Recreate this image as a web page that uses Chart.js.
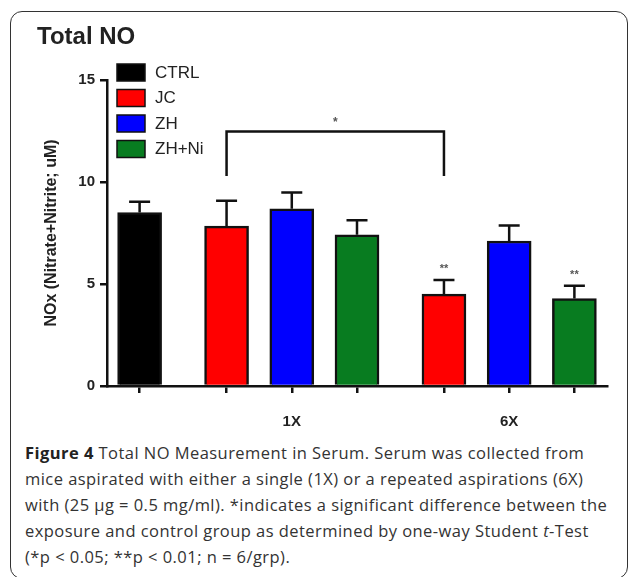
<!DOCTYPE html>
<html>
<head>
<meta charset="utf-8">
<script src="https://cdn.jsdelivr.net/npm/chart.js@4.4.1/dist/chart.umd.min.js"></script>
<style>
  html, body { margin: 0; padding: 0; background: #fff; }
  body { width: 629px; height: 577px; position: relative; overflow: hidden; }
  #frame {
    position: absolute; left: 10px; top: 11px; width: 618px; height: 568px;
    border: 1.5px solid #333; border-radius: 12px; box-sizing: border-box;
  }
  #plot { position: absolute; left: 0; top: 0; }
  #caption {
    position: absolute; left: 25px; top: 440px;
    font-family: "Open Sans", sans-serif; font-size: 16.5px; line-height: 26px;
    letter-spacing: 0.45px; color: #333; white-space: nowrap;
  }
  #caption b { color: #222; }
</style>
</head>
<body>
<div id="frame"></div>
<canvas id="plot" width="629" height="440"></canvas>
<div id="caption">
  <b>Figure 4</b> Total NO Measurement in Serum. Serum was collected from<br>
  mice aspirated with either a single (1X) or a repeated aspirations (6X)<br>
  with (25 µg = 0.5 mg/ml). *indicates a significant difference between the<br>
  exposure and control group as determined by one-way Student <i>t</i>-Test<br>
  (*p &lt; 0.05; **p &lt; 0.01; n = 6/grp).
</div>
<script>
(function () {
  // Values (mean and SEM, NOx in uM)
  const groupLabels = ["", "1X", "6X"];
  const seriesLabels = ["CTRL", "JC", "ZH", "ZH+Ni"];
  const seriesColors = ["#000000", "#ff0000", "#0000ff", "#087c20"];

  const ctrlMean = [8.5];
  const ctrlSem = [0.53];
  const jcMean = [7.84, 4.5];
  const jcSem = [1.24, 0.69];
  const zhMean = [8.69, 7.11];
  const zhSem = [0.8, 0.76];
  const zhNiMean = [7.41, 4.29];
  const zhNiSem = [0.71, 0.63];

  // significance marks over each bar
  const ctrlStars = [""];
  const jcStars = ["", "**"];
  const zhStars = ["", ""];
  const zhNiStars = ["", "**"];

  const yTicks = [0, 5, 10, 15];

  const series = [
    { label: seriesLabels[0], color: seriesColors[0], mean: ctrlMean, sem: ctrlSem, stars: ctrlStars, groups: [0] },
    { label: seriesLabels[1], color: seriesColors[1], mean: jcMean, sem: jcSem, stars: jcStars, groups: [1, 2] },
    { label: seriesLabels[2], color: seriesColors[2], mean: zhMean, sem: zhSem, stars: zhStars, groups: [1, 2] },
    { label: seriesLabels[3], color: seriesColors[3], mean: zhNiMean, sem: zhNiSem, stars: zhNiStars, groups: [1, 2] }
  ];

  // slot layout: one slot per bar, groups separated by an extra third of a slot
  const GROUP_GAP = 1 / 3;
  const slots = {};
  const groupCenters = [];
  let cursor = -1;
  groupLabels.forEach(function (g, gi) {
    const members = series.filter(function (s) { return s.groups.indexOf(gi) !== -1; });
    if (gi > 0) cursor += GROUP_GAP;
    const first = cursor + 1;
    members.forEach(function (s) { cursor += 1; slots[gi + ":" + s.label] = cursor; });
    groupCenters.push((first + cursor) / 2);
  });
  const allSlots = Object.keys(slots).map(function (k) { return slots[k]; }).sort(function (a, b) { return a - b; });

  const datasets = series.map(function (s) {
    return {
      label: s.label,
      backgroundColor: s.color,
      borderColor: "#111",
      borderWidth: 2.5,
      grouped: false,
      barThickness: 44,
      data: s.groups.map(function (gi, k) {
        return { x: slots[gi + ":" + s.label], y: s.mean[k], sem: s.sem[k], stars: s.stars[k] };
      })
    };
  });

  // error bars (upper SEM) and the ** marks
  const errorBars = {
    id: "errorBars",
    afterDatasetsDraw(chart) {
      const c = chart.ctx;
      const y = chart.scales.y;
      c.save();
      c.strokeStyle = "#111";
      c.lineWidth = 2.5;
      chart.data.datasets.forEach(function (ds, di) {
        const meta = chart.getDatasetMeta(di);
        meta.data.forEach(function (bar, i) {
          const pt = ds.data[i];
          const top = y.getPixelForValue(pt.y + pt.sem);
          c.beginPath();
          c.moveTo(bar.x, bar.y);
          c.lineTo(bar.x, top);
          c.moveTo(bar.x - 10.5, top);
          c.lineTo(bar.x + 10.5, top);
          c.stroke();
          if (pt.stars) {
            c.fillStyle = "#555";
            c.font = "bold 11px Arial";
            c.textAlign = "center";
            c.textBaseline = "middle";
            c.fillText(pt.stars, bar.x, top - 11);
          }
        });
      });
      c.restore();
    }
  };

  // significance bracket between JC 1X and JC 6X
  const bracket = {
    id: "bracket",
    afterDatasetsDraw(chart, args, opts) {
      const c = chart.ctx;
      const x = chart.scales.x, y = chart.scales.y;
      const x0 = x.getPixelForValue(slots[opts.from]);
      const x1 = x.getPixelForValue(slots[opts.to]);
      const yTop = y.getPixelForValue(opts.level);
      const yLeg = y.getPixelForValue(opts.leg);
      c.save();
      c.strokeStyle = "#111";
      c.lineWidth = 2.5;
      c.beginPath();
      c.moveTo(x0, yLeg);
      c.lineTo(x0, yTop);
      c.lineTo(x1, yTop);
      c.lineTo(x1, yLeg);
      c.stroke();
      c.fillStyle = "#555";
      c.font = "bold 12px Arial";
      c.textAlign = "center";
      c.textBaseline = "middle";
      c.fillText(opts.text, (x0 + x1) / 2, yTop - 9);
      c.restore();
    }
  };

  // legend inside the plot, top left
  const boxLegend = {
    id: "boxLegend",
    afterDraw(chart) {
      const c = chart.ctx;
      const a = chart.chartArea;
      c.save();
      c.font = "17px Arial";
      c.textBaseline = "middle";
      c.textAlign = "left";
      chart.data.datasets.forEach(function (ds, i) {
        const bx = a.left + 10;
        const by = a.top - 16 + i * 25.5;
        c.fillStyle = ds.backgroundColor;
        c.fillRect(bx, by, 28, 17);
        c.strokeStyle = "#111";
        c.lineWidth = 1.5;
        c.strokeRect(bx, by, 28, 17);
        c.fillStyle = "#222";
        c.fillText(ds.label, bx + 38, by + 9);
      });
      c.restore();
    }
  };

  new Chart(document.getElementById("plot"), {
    type: "bar",
    data: { datasets: datasets },
    plugins: [errorBars, bracket, boxLegend],
    options: {
      responsive: false,
      animation: false,
      devicePixelRatio: 1,
      layout: { padding: { left: 37, right: 22, top: 0, bottom: 0 } },
      plugins: {
        legend: { display: false },
        tooltip: { enabled: false },
        title: {
          display: true,
          text: "Total NO",
          align: "start",
          color: "#222",
          font: { family: "Arial", size: 24, weight: "bold" },
          padding: { top: 23, bottom: 28.2 }
        },
        bracket: { from: "1:JC", to: "2:JC", level: 12.47, leg: 10.3, text: "*" }
      },
      scales: {
        x: {
          type: "linear",
          min: allSlots[0] - 0.5,
          max: allSlots[allSlots.length - 1] + 0.5,
          offset: false,
          afterBuildTicks: function (scale) {
            scale.ticks = allSlots.map(function (v) { return { value: v }; });
          },
          afterFit: function (scale) { scale.height = 54; },
          grid: { display: true, drawOnChartArea: false, drawTicks: true, tickLength: 7, offset: false, color: "#111", lineWidth: 2.5 },
          border: { display: true, color: "#111", width: 2.5 },
          ticks: {
            autoSkip: false,
            maxRotation: 0,
            padding: 20,
            color: "#222",
            font: { family: "Arial", size: 15, weight: "bold" },
            callback: function (value) {
              for (let gi = 1; gi < groupLabels.length; gi++) {
                if (Math.abs(groupCenters[gi] - value) < 1e-6) return groupLabels[gi];
              }
              return "";
            }
          }
        },
        y: {
          min: 0,
          max: 15,
          afterBuildTicks: function (scale) {
            scale.ticks = yTicks.map(function (v) { return { value: v }; });
          },
          afterFit: function (scale) { scale.width = 70; },
          grid: { display: true, drawOnChartArea: false, drawTicks: true, tickLength: 7, color: "#111", lineWidth: 2.5 },
          border: { display: true, color: "#111", width: 2.5 },
          ticks: {
            padding: 5,
            color: "#222",
            font: { family: "Arial", size: 15, weight: "bold" }
          },
          title: {
            display: true,
            text: "NOx (Nitrate+Nitrite; uM)",
            color: "#222",
            font: { family: "Arial", size: 16, weight: "bold" },
            padding: { top: 5, bottom: 0 }
          }
        }
      }
    }
  });
})();
</script>
</body>
</html>
